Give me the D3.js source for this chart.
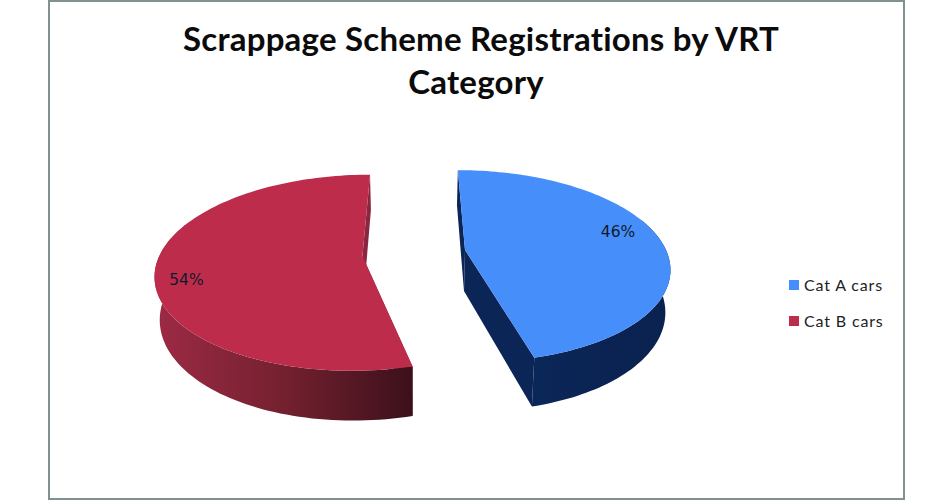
<!DOCTYPE html>
<html>
<head>
<meta charset="utf-8">
<script src="https://cdn.jsdelivr.net/npm/d3@7/dist/d3.min.js"></script>
<style>
  html, body { margin: 0; padding: 0; background: #fff; }
  svg { display: block; }
</style>
</head>
<body>
<svg id="chart" width="952" height="500"></svg>
<script>
const categories = ["Cat A cars", "Cat B cars"];
const shares = [46, 54];
const titleLines = ["Scrappage Scheme Registrations by VRT", "Category"];

const faceColors = ["#468ffa", "#bd2d4b"];

const svg = d3.select("#chart");

// frame round the chart area
svg.append("rect")
    .attr("x", 49).attr("y", 1)
    .attr("width", 855).attr("height", 498)
    .attr("fill", "#fff")
    .attr("stroke", "#7f9191")
    .attr("stroke-width", 2);

const titleX = [481, 476];
svg.append("g").selectAll("text")
    .data(titleLines)
    .enter().append("text")
    .attr("x", (d, i) => titleX[i])
    .attr("y", (d, i) => 51 + i * 43)
    .attr("text-anchor", "middle")
    .attr("font-family", "Lato")
    .attr("font-weight", 700)
    .attr("font-size", 33)
    .attr("letter-spacing", 0.22)
    .style("font-variant-ligatures", "none")
    .attr("fill", "#0b0b0b")
    .text(d => d);

// tilted pie: everything goes through this perspective projection
const radius = 201;
const vanishX = 415;
const horizonY = -308;
const groundY = 558;
const persp = 0.167;
const depth = 41;
const bottomShrink = 0.98;

const scaleAt = w => 1 / (1 - persp * w);

function project(wx, w, lower) {
    const s = scaleAt(w);
    let x = vanishX + s * wx;
    let y = horizonY + groundY * s;
    if (lower) {
        x = vanishX + bottomShrink * (x - vanishX);
        y += depth * s;
    }
    return [x, y];
}

const slices = d3.pie().sort(null)(shares);
// each slice is pulled out from the middle by its own offset
const offsets = [{x: 50, w: 0}, {x: -52, w: 0.065}];

const line = d3.line();

function rimPoint(i, a, lower) {
    const o = offsets[i];
    return project(o.x + radius * Math.sin(a), o.w - Math.cos(a), lower);
}

function arcPoints(i, lower, frontOnly) {
    const d = slices[i];
    const pts = d3.range(0, 121)
        .map(k => d.startAngle + (d.endAngle - d.startAngle) * k / 120)
        .filter(a => !frontOnly || Math.cos(a) < 0.35);
    return pts.map(a => rimPoint(i, a, lower));
}

const apex = (i, lower) => project(offsets[i].x, offsets[i].w, lower);

const defs = svg.append("defs");
const wallStops = [
    {id: "wall0", x1: 532, x2: 671, stops: ["#0b2759", "#0a2352", "#0a2250"]},
    {id: "wall1", x1: 158, x2: 414, stops: ["#9c2a44", "#73202f", "#3b101a"]}
];
wallStops.forEach(g => {
    const grad = defs.append("linearGradient")
        .attr("id", g.id)
        .attr("gradientUnits", "userSpaceOnUse")
        .attr("x1", g.x1).attr("x2", g.x2)
        .attr("y1", 0).attr("y2", 0);
    grad.selectAll("stop").data(g.stops).enter().append("stop")
        .attr("offset", (d, i) => i / (g.stops.length - 1))
        .attr("stop-color", d => d);
});

const cutColors = ["#0b2557", "#8a2640"];

const pieG = svg.append("g");
[1, 0].forEach(i => {
    const d = slices[i];
    const g = pieG.append("g");
    // straight cut walls
    [d.startAngle, d.endAngle].forEach(a => {
        g.append("path")
            .attr("d", line([apex(i, false), rimPoint(i, a, false), rimPoint(i, a, true), apex(i, true)]) + "Z")
            .attr("fill", cutColors[i]);
    });
    // curved outer wall, only the part turned to the viewer
    g.append("path")
        .attr("d", line(arcPoints(i, false, true).concat(arcPoints(i, true, true).reverse())) + "Z")
        .attr("fill", "url(#wall" + i + ")");
    // top face
    g.append("path")
        .attr("d", line([apex(i, false)].concat(arcPoints(i, false, false))) + "Z")
        .attr("fill", faceColors[i]);
});

// percentage labels, placed on the face by angle and fraction of the radius
const labelAngle = [1.325, 4.425];
const labelRadius = [0.82, 0.855];
const labelPos = i => {
    const o = offsets[i], a = labelAngle[i], r = labelRadius[i];
    return project(o.x + radius * r * Math.sin(a), o.w - r * Math.cos(a), false);
};
svg.append("g").selectAll("text")
    .data(shares)
    .enter().append("text")
    .attr("x", (d, i) => labelPos(i)[0])
    .attr("y", (d, i) => labelPos(i)[1])
    .attr("text-anchor", "middle")
    .attr("dominant-baseline", "middle")
    .attr("font-family", "DejaVu Sans")
    .attr("font-size", 15.5)
    .attr("fill", "#111a2c")
    .text(d => d + "%");

// legend
const legendY = d3.scalePoint().domain(categories).range([285, 321]);
const legend = svg.append("g").selectAll("g")
    .data(categories)
    .enter().append("g")
    .attr("transform", d => "translate(789," + legendY(d) + ")");
legend.append("rect")
    .attr("x", 0).attr("y", -5)
    .attr("width", 10).attr("height", 10)
    .attr("fill", (d, i) => faceColors[i]);
legend.append("text")
    .attr("x", 15)
    .attr("y", 5.5)
    .attr("font-family", "Lato")
    .attr("font-size", 16)
    .attr("letter-spacing", 0.85)
    .attr("fill", "#222")
    .text(d => d);
</script>
</body>
</html>
